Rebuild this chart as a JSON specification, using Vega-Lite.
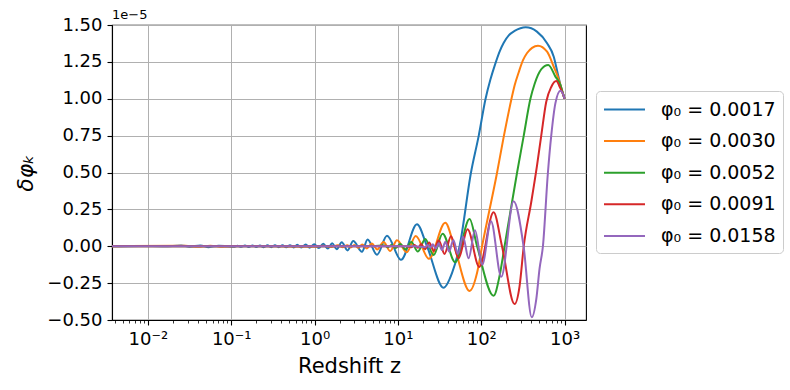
{
  "$schema": "https://vega.github.io/schema/vega-lite/v6.json",
  "width": 474,
  "height": 295,
  "autosize": {"type": "none"},
  "padding": {"left": 112, "top": 25, "right": 204, "bottom": 70},
  "background": "white",
  "title": {"text": "1e−5", "anchor": "start", "frame": "group", "fontSize": 13, "fontWeight": "normal", "font": "DejaVu Sans", "color": "black", "offset": -6},
  "datasets": {
    "labels": [
      {"k": "a", "s": "φ₀ = 0.0017"},
      {"k": "b", "s": "φ₀ = 0.0030"},
      {"k": "c", "s": "φ₀ = 0.0052"},
      {"k": "d", "s": "φ₀ = 0.0091"},
      {"k": "e", "s": "φ₀ = 0.0158"}
    ],
    "pts": [
      {"k":"a","z":0.003715,"v":0},
      {"k":"a","z":0.007943,"v":0.002},
      {"k":"a","z":0.01585,"v":0},
      {"k":"a","z":0.02512,"v":0.005},
      {"k":"a","z":0.03162,"v":-0.003},
      {"k":"a","z":0.04266,"v":0.005},
      {"k":"a","z":0.0537,"v":-0.006},
      {"k":"a","z":0.07079,"v":0.004},
      {"k":"a","z":0.08913,"v":0},
      {"k":"a","z":0.1072,"v":-0.004},
      {"k":"a","z":0.1189,"v":0.004},
      {"k":"a","z":0.1318,"v":-0.004},
      {"k":"a","z":0.1462,"v":0.005},
      {"k":"a","z":0.1622,"v":-0.005},
      {"k":"a","z":0.1799,"v":0.005},
      {"k":"a","z":0.1995,"v":-0.005},
      {"k":"a","z":0.2213,"v":0.005},
      {"k":"a","z":0.2455,"v":-0.006},
      {"k":"a","z":0.2723,"v":0.006},
      {"k":"a","z":0.302,"v":-0.006},
      {"k":"a","z":0.335,"v":0.006},
      {"k":"a","z":0.3715,"v":-0.006},
      {"k":"a","z":0.4121,"v":0.007},
      {"k":"a","z":0.4571,"v":-0.007},
      {"k":"a","z":0.507,"v":0.007},
      {"k":"a","z":0.5623,"v":-0.008},
      {"k":"a","z":0.6194,"v":0.01},
      {"k":"a","z":0.6918,"v":-0.008},
      {"k":"a","z":0.7834,"v":0.012},
      {"k":"a","z":0.875,"v":-0.01},
      {"k":"a","z":0.9908,"v":0.014},
      {"k":"a","z":1.122,"v":-0.012},
      {"k":"a","z":1.271,"v":0.017},
      {"k":"a","z":1.439,"v":-0.015},
      {"k":"a","z":1.629,"v":0.02},
      {"k":"a","z":1.845,"v":-0.02},
      {"k":"a","z":2.118,"v":0.027},
      {"k":"a","z":2.489,"v":-0.028},
      {"k":"a","z":2.911,"v":0.035},
      {"k":"a","z":3.707,"v":-0.037},
      {"k":"a","z":4.325,"v":0.046},
      {"k":"a","z":5.61,"v":-0.058},
      {"k":"a","z":7.396,"v":0.072},
      {"k":"a","z":10.89,"v":-0.092},
      {"k":"a","z":16.94,"v":0.149},
      {"k":"a","z":22.34,"v":0},
      {"k":"a","z":35.32,"v":-0.281},
      {"k":"a","z":44.67,"v":-0.18},
      {"k":"a","z":54.95,"v":0},
      {"k":"a","z":75.34,"v":0.5},
      {"k":"a","z":93.33,"v":0.75},
      {"k":"a","z":112.7,"v":1.0},
      {"k":"a","z":128.8,"v":1.13},
      {"k":"a","z":147.9,"v":1.24},
      {"k":"a","z":166.0,"v":1.32},
      {"k":"a","z":186.2,"v":1.38},
      {"k":"a","z":213.8,"v":1.43},
      {"k":"a","z":251.2,"v":1.46},
      {"k":"a","z":295.1,"v":1.478},
      {"k":"a","z":341.2,"v":1.484},
      {"k":"a","z":465.6,"v":1.455},
      {"k":"a","z":616.6,"v":1.376},
      {"k":"a","z":741.3,"v":1.285},
      {"k":"a","z":827.9,"v":1.17},
      {"k":"a","z":891.3,"v":1.093},
      {"k":"a","z":944.1,"v":1.045},
      {"k":"a","z":1000,"v":1.0},

      {"k":"b","z":0.003715,"v":0},
      {"k":"b","z":0.02818,"v":0.004},
      {"k":"b","z":0.03981,"v":-0.004},
      {"k":"b","z":0.05623,"v":0.004},
      {"k":"b","z":0.07943,"v":-0.003},
      {"k":"b","z":0.1259,"v":0.002},
      {"k":"b","z":1.0,"v":-0.003},
      {"k":"b","z":1.259,"v":0.004},
      {"k":"b","z":1.585,"v":-0.005},
      {"k":"b","z":1.905,"v":0.006},
      {"k":"b","z":2.188,"v":-0.006},
      {"k":"b","z":2.466,"v":0.007},
      {"k":"b","z":2.717,"v":-0.008},
      {"k":"b","z":2.992,"v":0.009},
      {"k":"b","z":3.342,"v":-0.01},
      {"k":"b","z":3.732,"v":0.012},
      {"k":"b","z":4.227,"v":-0.015},
      {"k":"b","z":4.853,"v":0.018},
      {"k":"b","z":5.649,"v":-0.022},
      {"k":"b","z":6.73,"v":0.028},
      {"k":"b","z":8.091,"v":-0.033},
      {"k":"b","z":9.75,"v":0.04},
      {"k":"b","z":12.76,"v":-0.04},
      {"k":"b","z":16.37,"v":0.07},
      {"k":"b","z":23.55,"v":-0.085},
      {"k":"b","z":36.98,"v":0.16},
      {"k":"b","z":47.42,"v":0},
      {"k":"b","z":72.44,"v":-0.303},
      {"k":"b","z":89.13,"v":-0.18},
      {"k":"b","z":102.3,"v":0},
      {"k":"b","z":154.9,"v":0.5},
      {"k":"b","z":186.2,"v":0.743},
      {"k":"b","z":230.7,"v":1.0},
      {"k":"b","z":251.2,"v":1.09},
      {"k":"b","z":281.8,"v":1.18},
      {"k":"b","z":316.2,"v":1.26},
      {"k":"b","z":354.8,"v":1.31},
      {"k":"b","z":407.4,"v":1.345},
      {"k":"b","z":479.7,"v":1.36},
      {"k":"b","z":616.6,"v":1.319},
      {"k":"b","z":741.3,"v":1.217},
      {"k":"b","z":827.9,"v":1.15},
      {"k":"b","z":891.3,"v":1.093},
      {"k":"b","z":944.1,"v":1.045},
      {"k":"b","z":1000,"v":1.0},

      {"k":"c","z":0.003715,"v":0},
      {"k":"c","z":1.0,"v":0},
      {"k":"c","z":5.012,"v":0.002},
      {"k":"c","z":6.918,"v":0.005},
      {"k":"c","z":7.586,"v":-0.007},
      {"k":"c","z":8.414,"v":0.009},
      {"k":"c","z":9.441,"v":-0.012},
      {"k":"c","z":10.72,"v":0.016},
      {"k":"c","z":12.3,"v":-0.021},
      {"k":"c","z":14.45,"v":0.028},
      {"k":"c","z":17.38,"v":-0.036},
      {"k":"c","z":21.28,"v":0.05},
      {"k":"c","z":26.79,"v":-0.06},
      {"k":"c","z":34.36,"v":0.085},
      {"k":"c","z":48.75,"v":-0.109},
      {"k":"c","z":72.44,"v":0.185},
      {"k":"c","z":89.13,"v":0},
      {"k":"c","z":140.6,"v":-0.335},
      {"k":"c","z":166.0,"v":-0.2},
      {"k":"c","z":190.5,"v":0},
      {"k":"c","z":269.2,"v":0.5},
      {"k":"c","z":323.6,"v":0.75},
      {"k":"c","z":389.0,"v":1.0},
      {"k":"c","z":436.5,"v":1.1},
      {"k":"c","z":478.6,"v":1.16},
      {"k":"c","z":524.8,"v":1.2},
      {"k":"c","z":575.4,"v":1.222},
      {"k":"c","z":638.3,"v":1.229},
      {"k":"c","z":776.2,"v":1.15},
      {"k":"c","z":891.3,"v":1.093},
      {"k":"c","z":944.1,"v":1.045},
      {"k":"c","z":1000,"v":1.0},

      {"k":"d","z":0.003715,"v":0},
      {"k":"d","z":12.59,"v":0},
      {"k":"d","z":14.62,"v":-0.006},
      {"k":"d","z":15.85,"v":0.008},
      {"k":"d","z":17.38,"v":-0.011},
      {"k":"d","z":19.05,"v":0.015},
      {"k":"d","z":21.13,"v":-0.02},
      {"k":"d","z":23.71,"v":0.026},
      {"k":"d","z":26.92,"v":-0.032},
      {"k":"d","z":30.9,"v":0.04},
      {"k":"d","z":36.31,"v":-0.052},
      {"k":"d","z":43.35,"v":0.068},
      {"k":"d","z":53.46,"v":-0.082},
      {"k":"d","z":68.55,"v":0.115},
      {"k":"d","z":94.62,"v":-0.14},
      {"k":"d","z":140.6,"v":0.23},
      {"k":"d","z":177.4,"v":0},
      {"k":"d","z":251.2,"v":-0.392},
      {"k":"d","z":288.4,"v":-0.27},
      {"k":"d","z":323.6,"v":0},
      {"k":"d","z":398.1,"v":0.3},
      {"k":"d","z":467.7,"v":0.55},
      {"k":"d","z":524.8,"v":0.75},
      {"k":"d","z":602.6,"v":0.98},
      {"k":"d","z":691.8,"v":1.08},
      {"k":"d","z":794.3,"v":1.12},
      {"k":"d","z":891.3,"v":1.07},
      {"k":"d","z":944.1,"v":1.04},
      {"k":"d","z":1000,"v":1.0},

      {"k":"e","z":0.003715,"v":0},
      {"k":"e","z":15.85,"v":0},
      {"k":"e","z":21.28,"v":-0.006},
      {"k":"e","z":22.75,"v":0.008},
      {"k":"e","z":24.43,"v":-0.01},
      {"k":"e","z":26.3,"v":0.013},
      {"k":"e","z":28.51,"v":-0.016},
      {"k":"e","z":30.9,"v":0.02},
      {"k":"e","z":33.73,"v":-0.025},
      {"k":"e","z":37.15,"v":0.03},
      {"k":"e","z":41.21,"v":-0.036},
      {"k":"e","z":46.24,"v":0.043},
      {"k":"e","z":52.48,"v":-0.052},
      {"k":"e","z":60.39,"v":0.065},
      {"k":"e","z":70.47,"v":-0.082},
      {"k":"e","z":84.14,"v":0.108},
      {"k":"e","z":102.8,"v":-0.125},
      {"k":"e","z":130.9,"v":0.17},
      {"k":"e","z":173.8,"v":-0.207},
      {"k":"e","z":244.3,"v":0.305},
      {"k":"e","z":322.1,"v":0},
      {"k":"e","z":403.6,"v":-0.482},
      {"k":"e","z":457.1,"v":-0.36},
      {"k":"e","z":501.2,"v":-0.15},
      {"k":"e","z":549.5,"v":0},
      {"k":"e","z":631.0,"v":0.5},
      {"k":"e","z":691.8,"v":0.75},
      {"k":"e","z":776.2,"v":0.97},
      {"k":"e","z":891.3,"v":1.055},
      {"k":"e","z":944.1,"v":1.04},
      {"k":"e","z":1000,"v":1.0}
    ]
  },
  "data": {"name": "pts"},
  "transform": [
    {"lookup": "k", "from": {"data": {"name": "labels"}, "key": "k", "fields": ["s"]}}
  ],
  "mark": {"type": "line", "interpolate": "monotone", "strokeWidth": 2, "clip": true},
  "encoding": {
    "x": {
      "field": "z",
      "type": "quantitative",
      "scale": {"type": "log", "domain": [0.00371, 1807], "nice": false},
      "axis": {
        "title": "Redshift z",
        "titleFontSize": 21,
        "titleFontWeight": "normal",
        "titlePadding": 7,
        "values": [0.004,0.005,0.006,0.007,0.008,0.009,0.01,0.02,0.03,0.04,0.05,0.06,0.07,0.08,0.09,0.1,0.2,0.3,0.4,0.5,0.6,0.7,0.8,0.9,1,2,3,4,5,6,7,8,9,10,20,30,40,50,60,70,80,90,100,200,300,400,500,600,700,800,900,1000],
        "labelExpr": "datum.value == 0.01 ? '10⁻²' : datum.value == 0.1 ? '10⁻¹' : datum.value == 1 ? '10⁰' : datum.value == 10 ? '10¹' : datum.value == 100 ? '10²' : datum.value == 1000 ? '10³' : ''",
        "labelOverlap": false,
        "labelFlush": false,
        "labelBound": false,
        "labelFontSize": 18,
        "labelPadding": 5,
        "tickSize": {"condition": {"test": "indexof([0.01,0.1,1,10,100,1000], datum.value) >= 0", "value": 5}, "value": 3},
        "tickWidth": {"condition": {"test": "indexof([0.01,0.1,1,10,100,1000], datum.value) >= 0", "value": 1.1}, "value": 0.8},
        "gridOpacity": {"condition": {"test": "indexof([0.01,0.1,1,10,100,1000], datum.value) >= 0", "value": 1}, "value": 0},
        "grid": true
      }
    },
    "y": {
      "field": "v",
      "type": "quantitative",
      "scale": {"domain": [-0.5, 1.5], "nice": false, "zero": false},
      "axis": {
        "title": "δφₖ",
        "titleFontSize": 22,
        "titleFontWeight": "normal",
        "titleFontStyle": "italic",
        "titlePadding": 9,
        "values": [-0.5,-0.25,0,0.25,0.5,0.75,1,1.25,1.5],
        "format": ".2f",
        "labelFontSize": 18,
        "labelPadding": 5,
        "tickSize": 5,
        "tickWidth": 1.1,
        "grid": true
      }
    },
    "color": {
      "field": "s",
      "type": "nominal",
      "scale": {
        "domain": ["φ₀ = 0.0017", "φ₀ = 0.0030", "φ₀ = 0.0052", "φ₀ = 0.0091", "φ₀ = 0.0158"],
        "range": ["#1f77b4", "#ff7f0e", "#2ca02c", "#d62728", "#9467bd"]
      },
      "legend": {
        "title": null,
        "orient": "none",
        "legendX": 484,
        "legendY": 66,
        "symbolType": "M-2,0H2",
        "symbolSize": 420,
        "symbolStrokeWidth": 2,
        "symbolOffset": 10,
        "labelFontSize": 19,
        "labelOffset": 25,
        "rowPadding": 9.6,
        "padding": 7,
        "strokeColor": "#cccccc",
        "fillColor": "rgba(255,255,255,0.8)",
        "cornerRadius": 4
      }
    }
  },
  "config": {
    "font": "DejaVu Sans",
    "axis": {
      "labelFont": "DejaVu Sans",
      "titleFont": "DejaVu Sans",
      "labelColor": "black",
      "titleColor": "black",
      "domainColor": "black",
      "domainWidth": 1.1,
      "tickColor": "black",
      "gridColor": "#b0b0b0",
      "gridWidth": 1
    },
    "legend": {"labelFont": "DejaVu Sans", "labelColor": "black"},
    "view": {"stroke": "black", "strokeWidth": 1.1}
  }
}
